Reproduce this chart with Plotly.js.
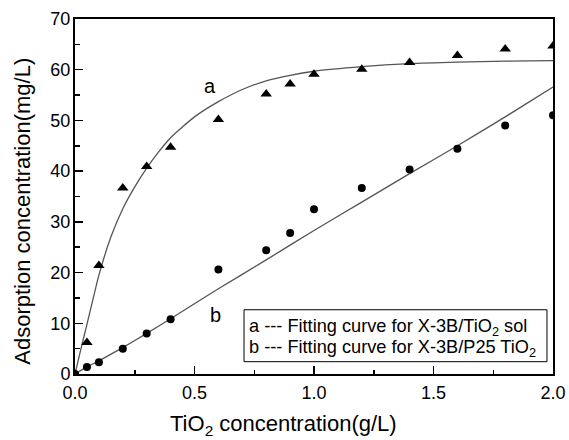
<!DOCTYPE html>
<html>
<head>
<meta charset="utf-8">
<script src="https://cdn.plot.ly/plotly-3.0.1.min.js"></script>
<style>
  html, body { margin: 0; padding: 0; background: #fff; }
  #chart { width: 569px; height: 440px; }
</style>
</head>
<body>
<div id="chart"></div>
<script>
// Measured adsorption data (mg/L) vs TiO2 dosage (g/L)
const dosage = [0, 0.05, 0.1, 0.2, 0.3, 0.4, 0.6, 0.8, 0.9, 1.0, 1.2, 1.4, 1.6, 1.8, 2.0];
const solAdsorption = [0, 6.2, 21.4, 36.7, 40.9, 44.7, 50.2, 55.2, 57.2, 59.1, 60.1, 61.4, 62.8, 64.1, 64.7];
const p25Adsorption = [0, 1.4, 2.3, 5.0, 8.0, 10.8, 20.6, 24.4, 27.8, 32.5, 36.7, 40.3, 44.4, 49.0, 51.0];

// Fitted curves
const fitAX = [0, 0.025, 0.05, 0.075, 0.1, 0.15, 0.2, 0.25, 0.3, 0.35, 0.4, 0.5, 0.6, 0.7, 0.8, 0.9, 1.0, 1.2, 1.4, 1.6, 1.8, 2.0];
const fitAY = [0, 5.0, 9.8, 14.7, 19.5, 27.0, 32.6, 36.9, 40.6, 43.8, 46.6, 50.7, 53.7, 56.1, 57.8, 58.9, 59.7, 60.6, 61.2, 61.5, 61.7, 61.8];
const fitBX = [0, 0.05, 0.1, 0.2, 0.3, 0.4, 0.6, 0.8, 1.0, 1.2, 1.4, 1.6, 1.8, 2.0];
const fitBY = [0, 1.4, 2.6, 5.2, 8.0, 10.9, 16.8, 22.5, 28.3, 33.9, 39.5, 45.0, 50.7, 56.6];

const legendLines = [
  'a --- Fitting curve for X-3B/TiO<sub>2</sub> sol',
  'b --- Fitting curve for X-3B/P25 TiO<sub>2</sub>'
];

const FONT = '"Liberation Sans", Arial, Helvetica, sans-serif';
const curveColor = '#555555';

const traces = [
  { x: fitAX, y: fitAY, mode: 'lines', line: { color: curveColor, width: 1.3, shape: 'spline', smoothing: 0.6 }, hoverinfo: 'skip' },
  { x: fitBX, y: fitBY, mode: 'lines', line: { color: curveColor, width: 1.3, shape: 'spline', smoothing: 0.5 }, hoverinfo: 'skip' },
  { x: dosage, y: solAdsorption, mode: 'markers', marker: { symbol: 'triangle-up', size: 10, color: '#000' } },
  { x: dosage, y: p25Adsorption, mode: 'markers', marker: { symbol: 'circle', size: 8, color: '#000' } }
];

const axisCommon = {
  showline: true, linecolor: '#000', linewidth: 2, mirror: true,
  ticks: 'inside', ticklen: 8, tickwidth: 1.5, tickcolor: '#000',
  showgrid: false, zeroline: false,
  tickfont: { family: FONT, size: 18, color: '#000' }
};

const layout = {
  width: 569, height: 440,
  margin: { l: 75, r: 16, t: 19, b: 66 },
  paper_bgcolor: '#fff', plot_bgcolor: '#fff',
  showlegend: false,
  font: { family: FONT, color: '#000' },
  xaxis: Object.assign({}, axisCommon, {
    range: [0, 2.0], dtick: 0.5, tickformat: '.1f', ticklabelstandoff: 1,
    minor: { dtick: 0.25, ticks: 'inside', ticklen: 4, tickwidth: 1.5, tickcolor: '#000' }
  }),
  yaxis: Object.assign({}, axisCommon, {
    range: [0, 70], dtick: 10, ticklabelstandoff: -1,
    minor: { dtick: 5, ticks: 'inside', ticklen: 5, tickwidth: 1.5, tickcolor: '#000' }
  }),
  shapes: [
    { type: 'rect', xref: 'paper', yref: 'paper', x0: 0.3536, x1: 0.9874, y0: 0.0347, y1: 0.181,
      line: { color: '#000', width: 1 }, fillcolor: '#fff' }
  ],
  annotations: [
    { xref: 'paper', yref: 'paper', x: 0.437, y: -0.144, text: 'TiO<sub>2</sub> concentration(g/L)',
      showarrow: false, font: { family: FONT, size: 22 }, xanchor: 'center', yanchor: 'middle' },
    { xref: 'paper', yref: 'paper', x: -0.1088, y: 0.46, text: 'Adsorption concentration(mg/L)', textangle: -90,
      showarrow: false, font: { family: FONT, size: 22 }, xanchor: 'center', yanchor: 'middle' },
    { xref: 'x', yref: 'y', x: 0.565, y: 56.7, text: 'a', showarrow: false, font: { family: FONT, size: 20 } },
    { xref: 'x', yref: 'y', x: 0.586, y: 11.7, text: 'b', showarrow: false, font: { family: FONT, size: 20 } },
    { xref: 'paper', yref: 'paper', x: 0.36, y: 0.132, text: legendLines[0], showarrow: false,
      xanchor: 'left', yanchor: 'middle', font: { family: FONT, size: 18.2 } },
    { xref: 'paper', yref: 'paper', x: 0.36, y: 0.072, text: legendLines[1], showarrow: false,
      xanchor: 'left', yanchor: 'middle', font: { family: FONT, size: 18.2 } }
  ]
};

Plotly.newPlot('chart', traces, layout, { staticPlot: true, displayModeBar: false });
</script>
</body>
</html>
